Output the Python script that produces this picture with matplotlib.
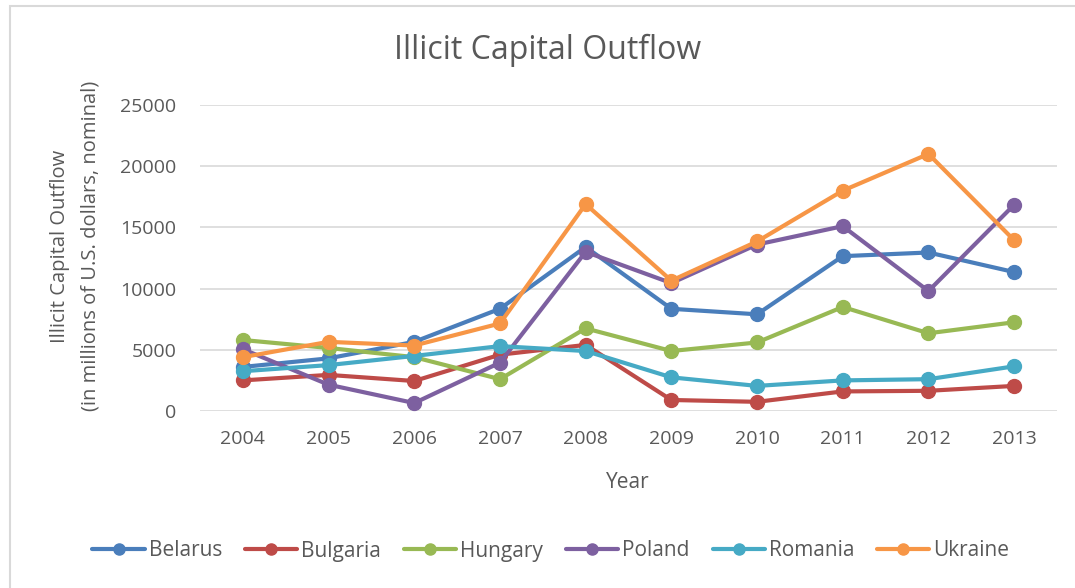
import matplotlib.pyplot as plt
from matplotlib.patches import Rectangle

years = ['2004', '2005', '2006', '2007', '2008', '2009', '2010', '2011', '2012', '2013']
belarus = [3600, 4300, 5650, 8350, 13400, 8350, 7900, 12650, 12950, 11350]
bulgaria = [2500, 2950, 2450, 4600, 5400, 900, 750, 1600, 1650, 2050]
hungary = [5800, 5150, 4400, 2600, 6750, 4900, 5600, 8500, 6350, 7250]
poland = [5050, 2150, 650, 3950, 13000, 10450, 13600, 15100, 9800, 16850]
romania = [3250, 3750, 4500, 5300, 4900, 2750, 2050, 2500, 2600, 3650]
ukraine = [4400, 5650, 5350, 7150, 16900, 10650, 13850, 18000, 21000, 13950]

series = [('Belarus', belarus, '#4A7EBB'), ('Bulgaria', bulgaria, '#BE4B48'),
          ('Hungary', hungary, '#98B954'), ('Poland', poland, '#7D60A0'),
          ('Romania', romania, '#46AAC5'), ('Ukraine', ukraine, '#F79646')]

plt.rcParams['font.family'] = ['Open Sans', 'DejaVu Sans']
txt = '#595959'

fig = plt.figure(figsize=(10.75, 5.88), dpi=100)
fig.patches.append(Rectangle((10 / 1075, -0.1), 1.2, 1 - 6 / 588 + 0.1, transform=fig.transFigure,
                             fill=False, edgecolor='#D9D9D9', lw=1.5))
ax = fig.add_axes([200 / 1075, 1 - 411 / 588, 857 / 1075, 306 / 588])

x = list(range(len(years)))
for name, vals, col in series:
    ax.plot(x, vals, color=col, lw=3, marker='o', ms=10, label=name, solid_capstyle='round')

ax.set_xlim(-0.5, len(years) - 0.5)
ax.set_ylim(0, 25000)
ax.set_yticks(range(0, 25001, 5000))
ax.set_xticks(x)
ax.set_xticklabels(years)
ax.grid(axis='y', color='#D9D9D9', lw=1.2)
ax.set_axisbelow(True)
for s in ax.spines.values():
    s.set_visible(False)
ax.tick_params(length=0, labelsize=14, colors=txt)
ax.tick_params(axis='x', pad=14)
ax.tick_params(axis='y', pad=17)

fig.text(548 / 1075, 1 - 50 / 588, 'Illicit Capital Outflow', fontsize=23, color=txt,
         ha='center', va='center')
fig.text(628 / 1075, 1 - 482 / 588, 'Year', fontsize=15, color=txt, ha='center', va='center')
fig.text(75 / 1075, 1 - 246 / 588, 'Illicit Capital Outflow\n(in millions of U.S. dollars, nominal)',
         fontsize=14.5, color=txt, ha='center', va='center', rotation=90, linespacing=1.7)

ax.legend(loc='center', bbox_to_anchor=(551 / 1075, 1 - 551 / 588), bbox_transform=fig.transFigure,
          ncol=6, frameon=False, fontsize=15, labelcolor=txt, handlelength=2.5,
          handletextpad=0.2, columnspacing=1.1, markerscale=0.8)

plt.savefig('out.png', dpi=100)
